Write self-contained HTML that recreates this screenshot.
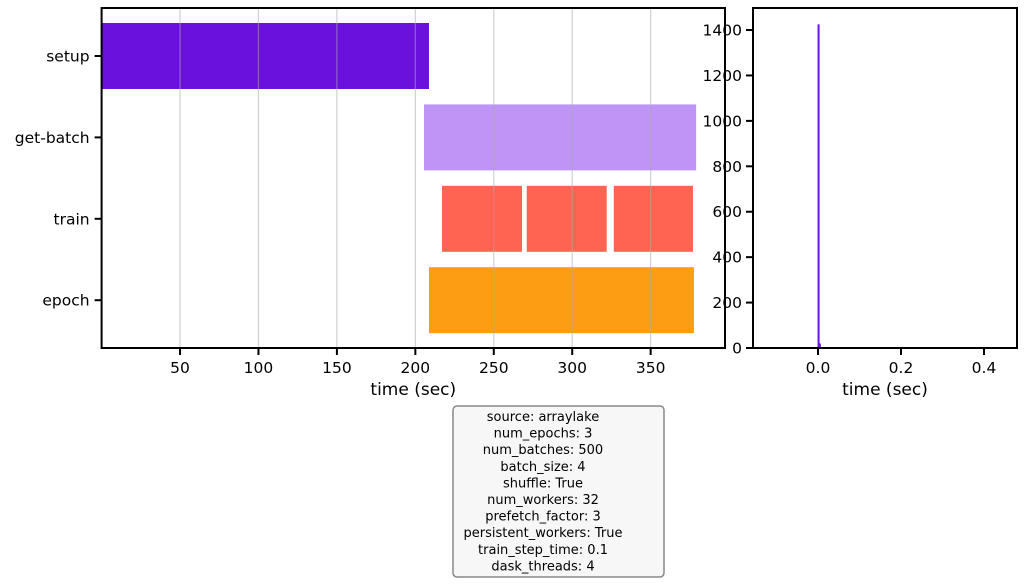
<!DOCTYPE html>
<html><head><meta charset="utf-8"><style>
body{margin:0;background:#fff;}
svg text{font-family:"DejaVu Sans","Liberation Sans",sans-serif;}
</style></head><body>
<svg id="c" width="1024" height="582" xmlns="http://www.w3.org/2000/svg"></svg>
<script>
const categories=["setup","get-batch","train","epoch"];
const barStarts=[[0],[205.5],[217,271,326.5],[208.7]];
const barEnds=[[208.7],[379],[268,322,377],[377.6]];
const barColors=["#6a11dd","#bf94f7","#ff6352","#fd9e12"];
const xTicks=[50,100,150,200,250,300,350];
const histBins=[0.001,0.004];
const histCounts=[1425,20];
const histBinWidth=0.004;
const histXTicks=[0.0,0.2,0.4];
const histYTicks=[0,200,400,600,800,1000,1200,1400];
const infoLines=["source: arraylake","num_epochs: 3","num_batches: 500","batch_size: 4","shuffle: True","num_workers: 32","prefetch_factor: 3","persistent_workers: True","train_step_time: 0.1","dask_threads: 4"];

const svg=document.getElementById('c');
const NS="http://www.w3.org/2000/svg";
function mk(t,a,p){const e=document.createElementNS(NS,t);for(const k in a)e.setAttribute(k,a[k]);(p||svg).appendChild(e);return e;}
const L={x0:101.6,x1:725,y0:8,y1:348,xmin:0,xmax:397.4};
const sx=v=>L.x0+(v-L.xmin)/(L.xmax-L.xmin)*(L.x1-L.x0);
const sy=i=>56+i*81.4;
categories.forEach((c,i)=>{
  barStarts[i].forEach((s,j)=>{
    const r=mk('rect',{x:sx(s),y:sy(i)-33,width:sx(barEnds[i][j])-sx(s),height:66,fill:barColors[i]});
    
    
  });
  mk('line',{x1:L.x0-7,x2:L.x0,y1:sy(i),y2:sy(i),stroke:'#000','stroke-width':2});
  const lb=mk('text',{x:L.x0-12,y:sy(i)+5.5,'text-anchor':'end','font-size':15.5});
  lb.textContent=c;
  
  
});
xTicks.forEach(v=>{
  mk('line',{x1:sx(v),x2:sx(v),y1:L.y0,y2:L.y1,stroke:'#aaa','stroke-opacity':0.55,'stroke-width':1.2});
  mk('line',{x1:sx(v),x2:sx(v),y1:L.y1,y2:L.y1+7,stroke:'#000','stroke-width':2});
  const t=mk('text',{x:sx(v),y:L.y1+25,'text-anchor':'middle','font-size':15.5});
  t.textContent=v;
  
  
});
const la=mk('rect',{x:L.x0,y:L.y0,width:L.x1-L.x0,height:L.y1-L.y0,fill:'none',stroke:'#000','stroke-width':2});


const xt=mk('text',{x:(L.x0+L.x1)/2,y:395,'text-anchor':'middle','font-size':17});
xt.textContent='time (sec)';


const R={x0:753,x1:1017,y0:8,y1:348,xmin:-0.1566,xmax:0.4795,ymax:1497};
const hx=v=>R.x0+(v-R.xmin)/(R.xmax-R.xmin)*(R.x1-R.x0);
const hy=v=>R.y1-v/R.ymax*(R.y1-R.y0);
histBins.forEach((b,i)=>{
  const r=mk('rect',{x:hx(b-histBinWidth/2),y:hy(histCounts[i]),width:Math.max(2,hx(b+histBinWidth/2)-hx(b-histBinWidth/2)),height:R.y1-hy(histCounts[i]),fill:'#6a11dd'});
  
  
});
histXTicks.forEach(v=>{
  mk('line',{x1:hx(v),x2:hx(v),y1:R.y1,y2:R.y1+7,stroke:'#000','stroke-width':2});
  const t=mk('text',{x:hx(v),y:R.y1+25,'text-anchor':'middle','font-size':15.5});
  t.textContent=v.toFixed(1);
  
  
});
histYTicks.forEach(v=>{
  mk('line',{x1:R.x0-7,x2:R.x0,y1:hy(v),y2:hy(v),stroke:'#000','stroke-width':2});
  const t=mk('text',{x:R.x0-11,y:hy(v)+5.5,'text-anchor':'end','font-size':15.5});
  t.textContent=v;
  
  
});
const ra=mk('rect',{x:R.x0,y:R.y0,width:R.x1-R.x0,height:R.y1-R.y0,fill:'none',stroke:'#000','stroke-width':2});


const ht=mk('text',{x:(R.x0+R.x1)/2,y:395,'text-anchor':'middle','font-size':17});
ht.textContent='time (sec)';


const bx=mk('rect',{x:453,y:406,width:211,height:171,rx:4,fill:'#f7f7f7',stroke:'#888','stroke-width':1.5});


infoLines.forEach((s,i)=>{
  const t=mk('text',{x:543,y:421+i*16.6,'text-anchor':'middle','font-size':13});
  t.textContent=s;
  
  
});
</script>
</body></html>
